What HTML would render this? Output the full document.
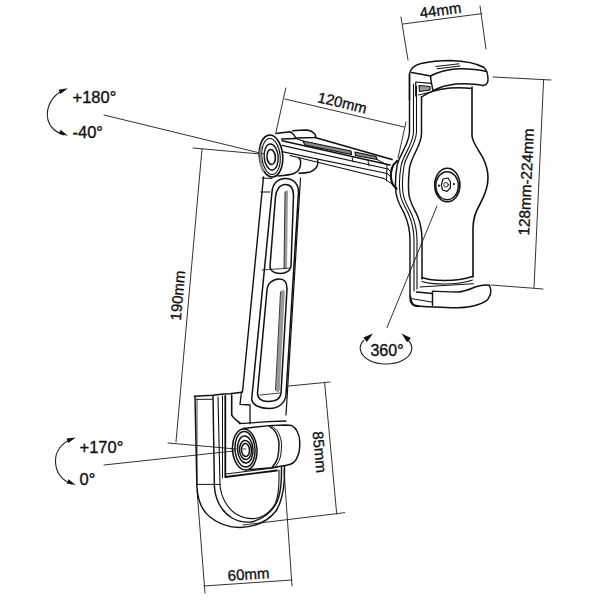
<!DOCTYPE html>
<html><head><meta charset="utf-8"><style>
html,body{margin:0;padding:0;background:#fff;width:600px;height:600px;overflow:hidden}
svg{display:block}
text{font-family:"Liberation Sans",sans-serif;fill:#111;font-size:15px;stroke:#111;stroke-width:0.35px}
</style></head><body>
<svg width="600" height="600" viewBox="0 0 600 600">
<!-- dimension lines -->
<g fill="none" stroke="#333" stroke-width="1" stroke-linecap="round">
 <path d="M401,17 L408,60 M480,6 L486,49 M403,24 L482,13.6"/>
 <path d="M285.8,88 L275.8,133 M285,99 L404,127 M406,122 L398,158"/>
 <path d="M493,77 L551,80 M543.6,80 L534,288 M491,285 L543,289"/>
 <path d="M193,148 L260,154 M202,149 L176,442 M168,443 L236,449"/>
 <path d="M288.7,386 L330,382 M324.7,383.3 L336.7,514 M243,525 L344.7,512.7"/>
 <path d="M197,490 L205,593 M284,470 L292,586 M204,586 L292,580"/>
 <path d="M104,115 L264,154 M104,465 L234,451 M437,206 L387,327.5"/>
</g>
<!-- rotation arcs -->
<g fill="none" stroke="#222" stroke-width="1.1">
 <path d="M64,90 C52,95 45,108 48,120 C50,128 55,132 64,135"/>
 <path d="M72,439 C61,443 55,452 55.5,462 C56,472 61,480 72,484"/>
 <path d="M364,340 A25.8,15.8 0 1 0 408,340"/>
</g>
<g fill="#111" stroke="none">
 <path d="M67.8,88.3 L60.5,94.0 L58.6,89.8 Z"/>
 <path d="M67.8,135.8 L58.7,133.9 L60.7,129.8 Z"/>
 <path d="M75.8,437.5 L68.2,442.9 L66.6,438.6 Z"/>
 <path d="M75.8,485.0 L66.6,483.5 L68.5,479.3 Z"/>
 <path d="M373.0,333.5 L366.9,341.9 L363.3,337.4 Z"/>
 <path d="M401.5,333.5 L410.9,337.9 L407.1,342.3 Z"/>
</g>
<!-- texts -->
<text x="72.5" y="102.5" style="font-size:16.5px">+180°</text>
<text x="72.5" y="138" style="font-size:16.5px">-40°</text>
<text x="79.5" y="452.5" style="font-size:16.5px">+170°</text>
<text x="79.5" y="485" style="font-size:16.5px">0°</text>
<text transform="translate(387,349.5)" x="0" y="6" text-anchor="middle" style="font-size:16px">360°</text>
<text transform="translate(440.5,10) rotate(-7.5)" x="0" y="5.5" text-anchor="middle">44mm</text>
<text transform="translate(342.4,102.4) rotate(13.5)" x="0" y="5.5" text-anchor="middle">120mm</text>
<text transform="translate(526,182) rotate(-87.4)" x="0" y="5.5" text-anchor="middle" style="font-size:15.3px">128mm-224mm</text>
<text transform="translate(177.5,295.5) rotate(-84.9)" x="0" y="5.5" text-anchor="middle">190mm</text>
<text transform="translate(320,452) rotate(84.7)" x="0" y="5.5" text-anchor="middle">85mm</text>
<text transform="translate(248.5,574) rotate(-3.9)" x="0" y="5.5" text-anchor="middle">60mm</text>

<!-- object -->
<g fill="none" stroke="#111" stroke-width="1.45" stroke-linejoin="round" stroke-linecap="round">
 <!-- holder cap top -->
 <path d="M409.5,100 L409.5,74 C410.5,68 415,65 421,63.5 C430,61.5 440,60.5 450,60.5 C465,61 477,63.5 484,67.5 C487,70 488,74 488,80 C488,83 486.5,85 483,85.5"/>
 <path d="M411.5,72.5 C418,73.5 425,74.8 430.5,76 C431,81 432,86 433,90.6 C438,88 446,85 456,84 C466,83.5 476,84 483,85.5"/>
 <path d="M430.5,76 C436,73 445,70 455,69 C466,68.5 478,69.5 486.5,71.5"/>
 <path d="M436,66.5 L459,63.8 M437,68.8 L460,66" stroke-width="1"/>
 <path d="M415.7,96 L415.7,82 L431,83.3" stroke-width="1.2"/>
 <path d="M419,85.5 L430,86.5 L430,90 L419.5,91.5 Z" fill="#999" stroke-width="1.1"/>
 <path d="M418.5,95 L431,92" stroke-width="1"/>
 <!-- back plate left contour lines -->
 <path d="M409.5,74 L409.5,132 C409,145 399,155 397,166 C395.5,175 395,185 396,193 C397.5,203 402,208 404.5,214 C408,222 410,230 410,240 L410,298 C410,304 413,306.5 419,306.5"/>
 <path d="M413.5,84 L413.5,132 C413,145 403,155 401,166 C399.5,175 399,185 400,193 C401.5,203 406,208 408.5,214 C412,222 414,230 414,240 L414,291" stroke-width="1.1"/>
 <path d="M416.5,86 L416.5,132 C416,145 406,155 404,166 C402.5,175 402,185 403,193 C404.5,203 409,208 411.5,214 C415,222 417,230 417,240 L417,289" stroke-width="1.1"/>
 <path d="M421.5,97 L421.5,134 C421,146 411,157 409.5,168 C408.5,177 408,187 409,195 C410.5,204 415,210 417.5,216 C420.5,223 422,230 422,240 L422,279" stroke-width="1.5"/>
 <!-- pad -->
 <path d="M421.5,97 C428,92 438,89 450,88 C460,87.5 468,88 472,88.5"/>
 <path d="M472,87 L472,136 C473,144 479,150 483,158 C487,166 488,172 488,178 C488,186 485,195 480,204 C476,211 473,218 473,228 L473,277" stroke-width="1.6"/>
 <path d="M422,277.5 C427,279.5 435,280.5 445,280.5 C455,280.5 465,279 472.5,276.5"/>
 <path d="M422,281.5 C427,283.5 435,284 445,284 C455,284 465,282.5 472.5,280" stroke-width="1.1"/>
 <path d="M420,287 L473.3,283.7" stroke-width="1"/>
 <!-- bottom cap -->
 <path d="M410.5,296 C410.8,301 412,304 415,305.3 C420,306.5 426,307 433.3,307 C442,307.5 450,308 458.3,307.8 C466,307.5 473,306.5 478.3,304.5 C483,303 487,301 488.3,298.7 C490.5,295.5 491,292 490.8,290 C490.5,288 490,286.5 489.2,285.3"/>
 <path d="M416.5,292 L432.5,293.5 M432.5,291.2 C440,291.5 450,292 458.3,292 C465,291.5 470,289 475,287 C480,285.5 485,284.5 489.2,285.3 M432.5,291.2 L432.5,305.5"/>
 <path d="M411.7,298.7 L431.7,302" stroke-width="1"/>
 <!-- center knob -->
 <ellipse cx="447.3" cy="185" rx="12.6" ry="16.8" stroke-width="1.6"/>
 <ellipse cx="447.1" cy="185.7" rx="11.2" ry="14" stroke-width="1.4"/>
 <path d="M443,179 L448,178 L450.5,182 L450.3,188 L447,191.3 L442.5,190 L441.3,185 Z" stroke-width="1.2"/>
 <circle cx="446" cy="184.8" r="2.3" stroke-width="0.9"/>
 <circle cx="438.9" cy="185.7" r="1.1" fill="#111" stroke="none"/>
 <circle cx="453.9" cy="184" r="1.1" fill="#111" stroke="none"/>
 <!-- nub at arm end -->
 <path d="M397,161 C392,165 390.5,172 391,178 C391.5,183 393,186 396.5,188.5" stroke-width="2.2"/>
 <!-- arm horizontal -->
 <path d="M315,137.5 L392,159.5" stroke-width="1.8"/>
 <path d="M281.5,139 L296,138.5 L303,141" stroke-width="1.3"/>
 <path d="M303,141 L351,151 L351.5,154.5 L305,145 Z" fill="#888" stroke-width="1.2"/>
 <path d="M355,152 L376,156.5 L377,159.5 L355.5,155.5 Z" fill="#888" stroke-width="1.2"/>
 <path d="M282,140.8 L390,165" stroke-width="1.4"/>
 <path d="M282,145.4 L388,169" stroke-width="1.2"/>
 <path d="M282,151.6 L387,173.5" stroke-width="1.2"/>
 <path d="M290,155.5 L384,178.5" stroke-width="1.2"/>
 <path d="M352,157 L353,162 M368,160.5 L369,166" stroke-width="0.9"/>
 <path d="M377,159.5 L387,165 L386.5,181 M388,169 L391,172 M387,173.5 L391,177 M384,178.5 L392,184" stroke-width="1"/>
 <!-- upper pivot housing -->
 <path d="M276,133.5 L289.7,131.8 C292,132.5 294,134.5 295.5,137.7"/>
 <path d="M292.7,130.7 C298,130.2 302,130 307.3,130 C310,130.5 312.5,131.5 314,133.3 C315.5,134.5 316,136 315.5,137.5 L296,138"/>
 <path d="M278,176 C284,175.5 290,175 294,173.5 C298,172 300.5,168 300.7,163 C300.8,160.5 300,159 299,158"/>
 <path d="M299,173.3 C303,173.2 307,172.8 310,172 C314,170.5 316.5,168 317.5,165 C318.2,162.5 318,161 317.5,160"/>
 <!-- upper pivot -->
 <ellipse cx="271" cy="156" rx="11.7" ry="21" transform="rotate(-5 271 156)" stroke-width="1.6"/>
 <ellipse cx="271" cy="156.5" rx="9.2" ry="18" transform="rotate(-5 271 156.5)" stroke-width="1.1"/>
 <ellipse cx="271.2" cy="157" rx="7" ry="13" transform="rotate(-5 271.2 157)" stroke-width="1.4"/>
 <ellipse cx="271.2" cy="157" rx="4.2" ry="7.5" transform="rotate(-5 271.2 157)" stroke-width="1.6"/>
 <path d="M261,147 C259.8,155 260.3,164 263,171" stroke="#888" stroke-width="2.2"/>
 <!-- vertical arm -->
 <path d="M262,178 L272,178.5 M261,192 L270,192" stroke-width="1"/>
 <path d="M263.5,177 L242.5,392" stroke-width="1.4"/>
 <path d="M300.5,178 L286,415" stroke-width="1.2"/>
 <path d="M272,192 C272.5,184 277.5,178.5 285.5,178.5 C293.5,178.5 298.5,184 298.5,192 L286,395 C285,403 279,408.5 269,408.5 C260,408.5 252,405 251.7,399 Z" stroke-width="1.5"/>
 <path d="M275.5,197 C276,189.5 280,184.5 285.5,184.5 C291,184.5 293.5,189 293.5,196 L291,266 C290.5,271 285.5,273.5 280.5,273.5 C274.5,273.5 270,271 270,266 Z" stroke-width="1.5"/>
 <path d="M267,290 C267.5,283 273,279 279.5,279 C285,279 287,283 287,289 L281,393 C280.5,398 277,401.5 268,401.5 C261,401.5 257.3,398 257.5,393 Z" stroke-width="1.5"/>
 <path d="M286.5,192 L285.5,268" stroke="#999" stroke-width="3"/>
 <path d="M282.8,292 L277.8,390" stroke="#999" stroke-width="4"/>
 <path d="M285,192 L284,268 M280.5,292 L275.5,390" stroke-width="0.8"/>
 <path d="M262,270 L290,268 M260,395 L280,393" stroke-width="0.8"/>
 <!-- base plate -->
 <path d="M194.3,396.3 L213,395.2 L223.5,394 L230,393.7 L242,392.3"/>
 <path d="M195,397.5 L196.9,486 C197.5,499 201,510 210,517 C218,523.5 228,527.5 240,527.5 C255,527 268,521 276,511 C281,503 283.5,493 284.3,480 L284.5,466"/>
 <path d="M197,400 L197,484" stroke-width="0.8"/>
 <path d="M196,399.3 L212.4,399.3 M196.9,484.4 L220,484.4" stroke-width="1"/>
 <path d="M213,396 L214.4,486 C215,500 222,512 232,518 C238,521.5 245,522.5 251,522 C262,520 272,512 277,502 C280,495 281,488 281.4,478 L281.5,467"/>
 <path d="M218,397 L220,485 C221,497 227,508 236,514 C242,517.5 249,519 255,518.5 C264,517 271,511 275,504 C278,498 279,490 279,478 L279,470" stroke-width="1.1"/>
 <path d="M222.5,396 L222.5,478" stroke-width="1"/>
 <path d="M225.3,396 L225.3,477 L277,470.5" stroke-width="1.8"/>
 <path d="M226,474 L277,467.5" stroke-width="1"/>
 <!-- arm bottom joint -->
 <path d="M231.7,395 L231.7,415 C233,418 236,420 240,423" stroke-width="1.6"/>
 <path d="M241.5,392 L240,404.3 L250,405 M250,405 L250,423.7 M239.3,423.7 L268.7,421.7 L286,421" stroke-width="1.3"/>
 <!-- lower pivot cylinder -->
 <path d="M243,428.5 L269,425.6 L285,425 C288,425 290,425 291.7,425.7 C294,427 296,429 297,431 C299,435 299.8,438 299.8,442 C299.8,447 299.5,450 299,452.3 C298,456 297,458 295.7,460.3 C294,462.5 292,464 290.3,464.3 C288,465 286,465.5 283.7,465.7 L271.7,467.7 L249,469.7"/>
 <path d="M269,426 C272,428 274.5,430 275.7,432.3 C278,437 279,441 279,444.3 C279,450 278.5,454 277.7,457.7 C276.5,461.5 274.5,464.5 272.3,467"/>
 <path d="M271.5,426 C274.5,428 277,430 278.2,432.3 C280.5,437 281.5,441 281.5,444.3 C281.5,450 281,454 280.2,457.7 C279,461.5 277,464.5 274.8,467" stroke-width="1"/>
 <ellipse cx="244.75" cy="449.5" rx="12.25" ry="20.5" transform="rotate(-4 244.75 449.5)" stroke-width="1.5"/>
 <ellipse cx="245" cy="449.3" rx="10" ry="17.75" transform="rotate(-4 245 449.3)"/>
 <ellipse cx="245.25" cy="449.5" rx="7.75" ry="13.5" transform="rotate(-4 245.25 449.5)"/>
 <ellipse cx="245.5" cy="450" rx="6" ry="9.5" transform="rotate(-4 245.5 450)"/>
 <ellipse cx="245.5" cy="450" rx="4" ry="6.5" transform="rotate(-4 245.5 450)" stroke-width="1.5"/>
 <path d="M243,449 L246,449" stroke-width="0.8"/>
</g>
</svg>
</body></html>
